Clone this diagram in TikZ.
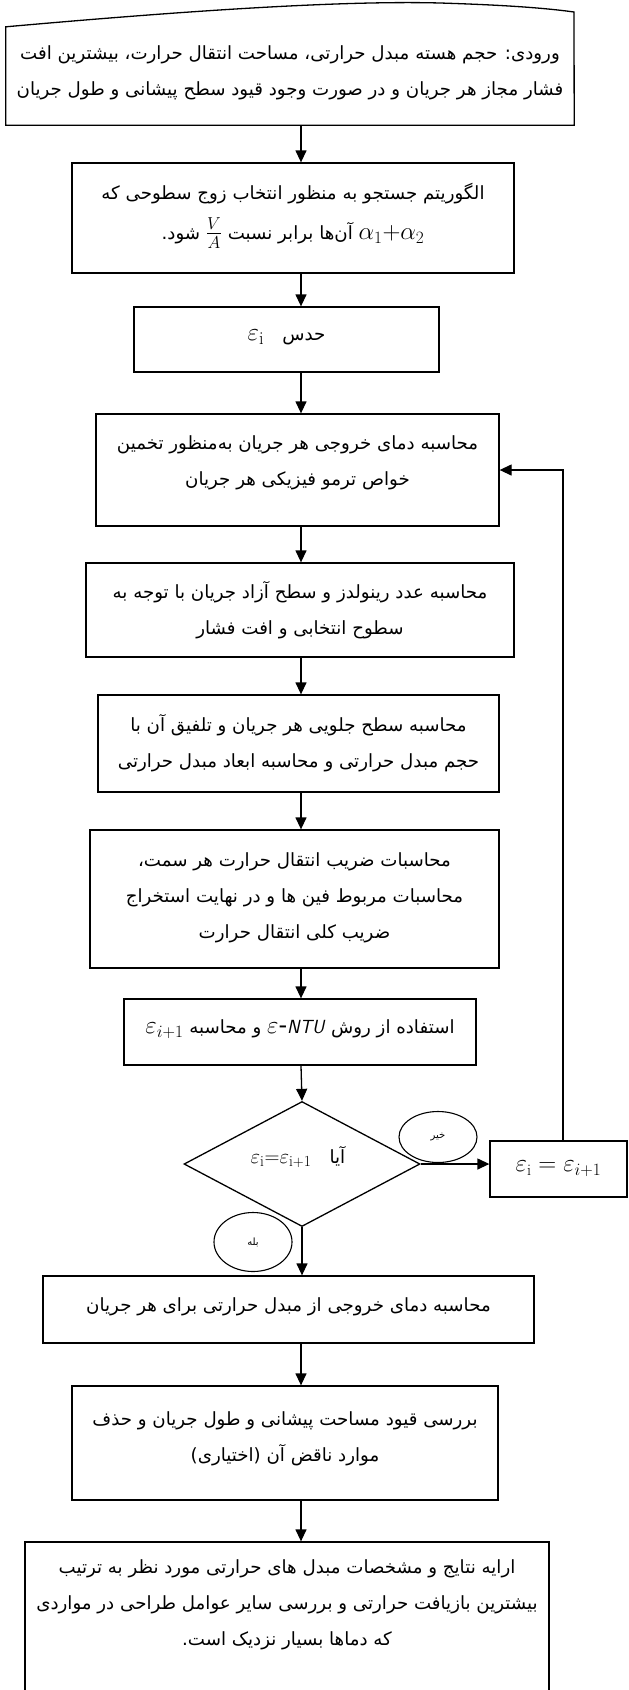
\documentclass[tikz,border=0pt]{standalone}
\usepackage{fontspec}
\usetikzlibrary{arrows.meta,shapes.geometric}
\newfontfamily\ar[Script=Arabic]{DejaVu Sans}
\TeXXeTstate=1
\newcommand\artext{\ar\fontsize{18.2pt}{36pt}\selectfont}
\newcommand\RL[1]{\beginR #1\endR}
\newcommand\up[1]{\rule[-#1]{0pt}{0pt}}
\newcommand\mth[2][24pt]{\hbox{\fontsize{#1}{#1}\selectfont\beginL$#2$\endL}}
\tikzset{
  box/.style={draw, line width=1.3pt, rectangle, inner sep=0pt, align=center, font=\artext},
  arr/.style={line width=1.3pt, -{Triangle[length=12pt,width=11pt]}},
  oval/.style={draw, ellipse, line width=1.1pt, inner sep=0pt, font=\ar\fontsize{10pt}{12pt}\selectfont},
}
\begin{document}
\begin{tikzpicture}[x=1pt,y=-1pt]
\useasboundingbox (0,0) rectangle (629,1690);
\coordinate (ax) at (301,0);
\coordinate (lx) at (563,0);
% input (manual input shape)
\node[inner sep=0pt, minimum width=568pt, minimum height=98pt, font=\artext, align=center] (in) at (290,76)
  {\RL{ورودی: حجم هسته مبدل حرارتی، مساحت انتقال حرارت، بیشترین افت}\\
   \RL{فشار مجاز هر جریان و در صورت وجود قیود سطح پیشانی و طول جریان}\up{11pt}};
\coordinate (inTR) at (574,12);
\draw[line width=1.3pt] (in.south west) -- (in.north west) .. controls (150,14) and (330,0) .. (440,3)
  .. controls (505,5) and (545,8) .. (inTR) -- (in.south east) -- cycle;
% boxes
\node[box, minimum width=442pt, minimum height=110pt] (b2) at (293,218)
  {\RL{الگوریتم جستجو به منظور انتخاب زوج سطوحی که}\\[4pt]
   \RL{\mth[27pt]{\alpha_1{+}\alpha_2} آن‌ها برابر نسبت \mth[25pt]{\frac{V}{A}} شود.}\up{13pt}};
\node[box, minimum width=305pt, minimum height=65pt] (b3) at (286.5,339.5)
  {\RL{حدس\quad \mth[26pt]{\varepsilon_{\mathrm{i}}}}\up{9pt}};
\node[box, minimum width=403pt, minimum height=112pt] (b4) at (297.5,470)
  {\RL{محاسبه دمای خروجی هر جریان به‌منظور تخمین}\\
   \RL{خواص ترمو فیزیکی هر جریان}\up{19pt}};
\node[box, minimum width=428pt, minimum height=94pt] (b5) at (300,610)
  {\RL{محاسبه عدد رینولدز و سطح آزاد جریان با توجه به}\\
   \RL{سطوح انتخابی و افت فشار}};
\node[box, minimum width=401pt, minimum height=97pt] (b6) at (298.5,743.5)
  {\RL{محاسبه سطح جلویی هر جریان و تلفیق آن با}\\
   \RL{حجم مبدل حرارتی و محاسبه ابعاد مبدل حرارتی}};
\node[box, minimum width=409pt, minimum height=138pt] (b7) at (294.5,899)
  {\RL{محاسبات ضریب انتقال حرارت هر سمت،}\\
   \RL{محاسبات مربوط فین ها و در نهایت استخراج}\\
   \RL{ضریب کلی انتقال حرارت}\up{6pt}};
\node[box, minimum width=352pt, minimum height=66pt] (b8) at (300,1032)
  {\RL{استفاده از روش \mth{\varepsilon\mbox{-}\mbox{\fontsize{19pt}{19pt}\selectfont\textsf{\textit{NTU}}}} و محاسبه \mth{\varepsilon_{i+1}}}\up{10pt}};
\node[draw, diamond, line width=1.3pt, inner sep=0pt, minimum width=236pt, minimum height=125pt] (d) at (302,1164) {};
\node[inner sep=0pt, font=\artext] (dt) at (298,1157)
  {\RL{آیا\quad\mth[22pt]{\varepsilon_{\mathrm{i}}{=}\varepsilon_{\mathrm{i+1}}}}};
\node[box, minimum width=137pt, minimum height=56pt] (lp) at (558.5,1169)
  {\mth[23pt]{\varepsilon_{\mathrm{i}} = \varepsilon_{i+1}}};
\node[oval, minimum width=78pt, minimum height=51pt] (no) at (438,1137) {\RL{خیر}};
\node[oval, minimum width=78pt, minimum height=59pt] (yes) at (253,1242) {\RL{بله}};
\node[box, minimum width=491pt, minimum height=67pt] (b9) at (288.5,1309.5)
  {\RL{محاسبه دمای خروجی از مبدل حرارتی برای هر جریان}\up{9pt}};
\node[box, minimum width=426pt, minimum height=114pt] (b10) at (285,1443)
  {\RL{بررسی قیود مساحت پیشانی و طول جریان و حذف}\\
   \RL{موارد ناقض آن (اختیاری)}\up{13pt}};
\node[box, minimum width=524pt, minimum height=160pt] (b11) at (287,1622) {};
\node[inner sep=0pt, align=center, font=\artext] (t11) at (287,1605)
  {\RL{ارایه نتایج و مشخصات مبدل های حرارتی مورد نظر به ترتیب}\\
   \RL{بیشترین بازیافت حرارتی و بررسی سایر عوامل طراحی در مواردی}\\
   \RL{که دماها بسیار نزدیک است.}};
% connectors
\draw[arr] (in.south -| ax) -- (b2.north -| ax);
\draw[arr] (b2.south -| ax) -- (b3.north -| ax);
\draw[arr] (b3.south -| ax) -- (b4.north -| ax);
\draw[arr] (b4.south -| ax) -- (b5.north -| ax);
\draw[arr] (b5.south -| ax) -- (b6.north -| ax);
\draw[arr] (b6.south -| ax) -- (b7.north -| ax);
\draw[arr] (b7.south -| ax) -- (b8.north -| ax);
\draw[arr] (b8.south -| ax) -- (d.north);
\draw[arr] (d.east) -- (d.east -| lp.west);
\draw[arr] (lp.north -| lx) -- (lx |- b4.east) -- (b4.east);
\draw[arr] (d.south) -- (b9.north -| d.south);
\draw[arr] (b9.south -| ax) -- (b10.north -| ax);
\draw[arr] (b10.south -| ax) -- (b11.north -| ax);
\end{tikzpicture}
\end{document}
